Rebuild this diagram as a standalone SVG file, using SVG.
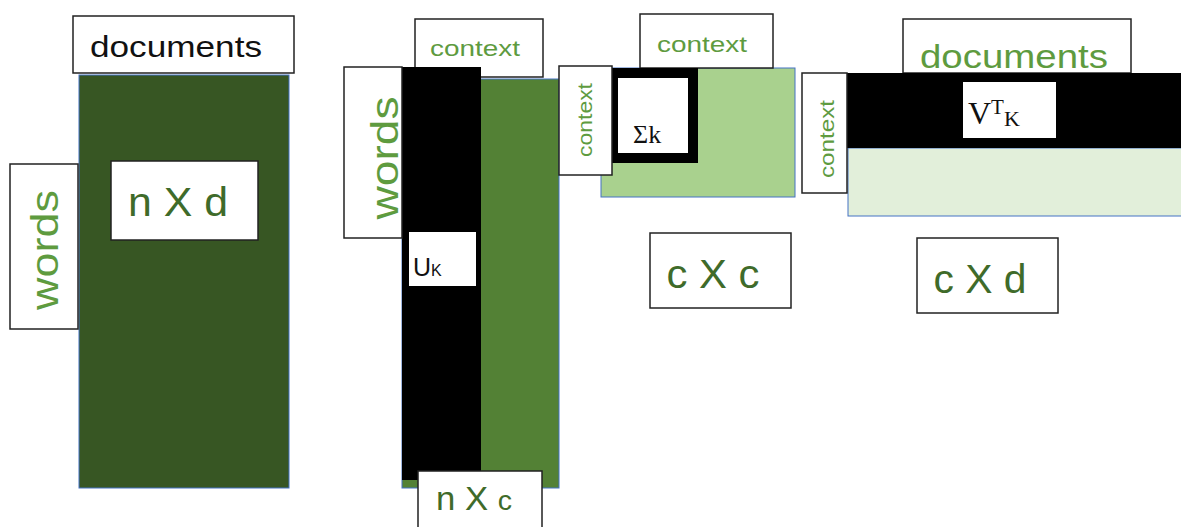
<svg xmlns="http://www.w3.org/2000/svg" width="1181" height="527" viewBox="0 0 1181 527">
<style>
.lbl{fill:#ffffff;stroke:#222222;stroke-width:1.5}
.mat{stroke:#4472C4;stroke-width:1}
.t{font-family:"Liberation Sans",Arial,sans-serif}
.g1{fill:#3F6B2A}
.g2{fill:#5E9B3F}
.serif{font-family:"Liberation Serif","Times New Roman",serif;fill:#111111}
</style>
<rect width="1181" height="527" fill="#ffffff"/>
<g id="matrix-nxd">
<rect class="mat" x="79" y="75" width="210" height="413" fill="#375623"/>
<rect class="lbl" x="73" y="16" width="221" height="57"/>
<text class="t" x="176" y="57" font-size="30" text-anchor="middle" fill="#111111" textLength="172" lengthAdjust="spacingAndGlyphs">documents</text>
<rect class="lbl" x="10" y="164" width="68" height="165"/>
<text class="t g2" transform="translate(58,250) rotate(-90)" font-size="38" text-anchor="middle" textLength="120" lengthAdjust="spacingAndGlyphs">words</text>
<rect class="lbl" x="111" y="161" width="147" height="79"/>
<text class="t g1" x="178" y="216" font-size="40" text-anchor="middle" textLength="100" lengthAdjust="spacingAndGlyphs">n X d</text>
</g>
<g id="matrix-u">
<rect class="mat" x="402" y="79" width="157" height="409" fill="#538135"/>
<rect class="lbl" x="415" y="19" width="128" height="58"/>
<rect x="402" y="67" width="79" height="413" fill="#000000"/>
<rect class="lbl" x="344" y="67" width="58" height="171"/>
<text class="t g2" transform="translate(398,158) rotate(-90)" font-size="38" text-anchor="middle" textLength="123" lengthAdjust="spacingAndGlyphs">words</text>
<text class="t g2" x="475" y="56" font-size="22" text-anchor="middle" textLength="90" lengthAdjust="spacingAndGlyphs">context</text>
<rect x="409" y="232" width="67" height="54" fill="#ffffff"/>
<text class="t" x="413" y="276" font-size="25" fill="#111111">U<tspan font-size="16">K</tspan></text>
<rect class="lbl" x="418" y="471" width="124" height="70"/>
<text class="t g1" x="474" y="510" font-size="34" text-anchor="middle" textLength="76" lengthAdjust="spacingAndGlyphs">n X <tspan font-size="28">c</tspan></text>
</g>
<g id="matrix-sigma">
<rect class="mat" x="601" y="68" width="194" height="129" fill="#A9D18E"/>
<rect class="lbl" x="640" y="14" width="133" height="54"/>
<text class="t g2" x="702" y="52" font-size="22" text-anchor="middle" textLength="90" lengthAdjust="spacingAndGlyphs">context</text>
<rect x="613" y="73" width="80" height="85" fill="#ffffff" stroke="#000000" stroke-width="10"/>
<rect class="lbl" x="559" y="66" width="53" height="109"/>
<text class="t g2" transform="translate(592,120) rotate(-90)" font-size="20" text-anchor="middle" textLength="74" lengthAdjust="spacingAndGlyphs">context</text>
<text class="serif" x="633" y="143" font-size="26">Σk</text>
<rect class="lbl" x="650" y="233" width="141" height="75"/>
<text class="t g1" x="713" y="288" font-size="40" text-anchor="middle" textLength="93" lengthAdjust="spacingAndGlyphs">c X c</text>
</g>
<g id="matrix-vt">
<rect class="mat" x="848" y="148" width="340" height="68" fill="#E2EFDA"/>
<rect class="lbl" x="903" y="19" width="228" height="54"/>
<text class="t g2" x="1014" y="68" font-size="34" text-anchor="middle" textLength="188" lengthAdjust="spacingAndGlyphs">documents</text>
<rect x="847" y="73" width="340" height="75" fill="#000000"/>
<rect class="lbl" x="802" y="73" width="45" height="120"/>
<text class="t g2" transform="translate(834,139) rotate(-90)" font-size="20" text-anchor="middle" textLength="78" lengthAdjust="spacingAndGlyphs">context</text>
<rect x="963" y="82" width="93" height="56" fill="#ffffff"/>
<text class="serif" x="968" y="124" font-size="32">V<tspan font-size="21" dy="-10">T</tspan><tspan font-size="22" dy="12">K</tspan></text>
<rect class="lbl" x="917" y="238" width="141" height="75"/>
<text class="t g1" x="980" y="293" font-size="40" text-anchor="middle" textLength="93" lengthAdjust="spacingAndGlyphs">c X d</text>
</g>
</svg>
